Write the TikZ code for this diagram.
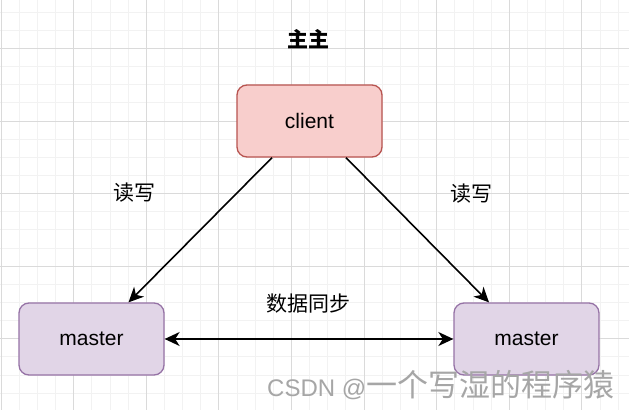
\documentclass[tikz,border=0pt]{standalone}
\usepackage{fontspec}
\setmainfont{Liberation Sans}
\newfontfamily\cjk{Noto Sans CJK SC}
\usetikzlibrary{arrows.meta}
\definecolor{clientfill}{HTML}{F8CECC}
\definecolor{clientline}{HTML}{B85450}
\definecolor{masterfill}{HTML}{E1D5E7}
\definecolor{masterline}{HTML}{9673A6}
\definecolor{gridminor}{HTML}{F2F2F2}
\definecolor{gridmajor}{HTML}{DADADA}
\definecolor{wmgray}{HTML}{A6A6A6}
\tikzset{
  box/.style={rounded corners=10pt, line width=1.3pt, minimum width=145pt, minimum height=72pt,
    inner sep=0pt, font=\fontsize{21}{25}\selectfont, text=black},
  clientbox/.style={box, fill=clientfill, draw=clientline},
  masterbox/.style={box, fill=masterfill, draw=masterline},
  lbl/.style={font=\fontsize{21}{25}\selectfont\cjk, inner sep=0pt},
  conn/.style={line width=1.6pt, -{Stealth[length=15pt,width=14pt,inset=4.5pt]}},
  dconn/.style={line width=1.6pt, {Stealth[length=15pt,width=14pt,inset=4.5pt]}-{Stealth[length=15pt,width=14pt,inset=4.5pt]}}
}
\begin{document}
\begin{tikzpicture}[x=1pt,y=-1pt]
\useasboundingbox (0,0) rectangle (629,410);
\fill[white] (0,0) rectangle (629,410);
% minor grid
\foreach \i in {-1,...,35} {
  \draw[gridminor, line width=0.8pt] ({1+18.15*\i},0) -- ({1+18.15*\i},410);
}
\foreach \j in {-3,...,23} {
  \draw[gridminor, line width=0.8pt] (0,{48.3+18.15*\j}) -- (629,{48.3+18.15*\j});
}
% major grid
\foreach \i in {0,...,8} {
  \draw[gridmajor, line width=0.8pt] ({1+72.6*\i},0) -- ({1+72.6*\i},410);
}
\foreach \j in {-1,...,5} {
  \draw[gridmajor, line width=0.8pt] (0,{48.3+72.6*\j}) -- (629,{48.3+72.6*\j});
}
% title
\node[font=\fontsize{21}{25}\selectfont\cjk\bfseries, inner sep=0pt] (title) at (308.5,39) {主主};
% nodes
\node[clientbox] (client) at (309.5,121) {client};
\node[masterbox] (m1) at (91.5,339) {master};
\node[masterbox] (m2) at (526.5,339) {master};
% labels
\node[lbl] (rw1) at (134,193) {读写};
\node[lbl] (rw2) at (471,194) {读写};
\node[lbl] (sync) at (308.5,304) {数据同步};
% connectors
\coordinate (c1) at ([xshift=-37.5pt]client.south);
\coordinate (c2) at ([xshift=36.5pt]client.south);
\coordinate (t1) at ([xshift=37pt]m1.north);
\coordinate (t2) at ([xshift=-37.5pt]m2.north);
\draw[conn] (c1) -- (t1);
\draw[conn] (c2) -- (t2);
\draw[dconn] (m1.east) -- (m2.west);
% watermark
\node[anchor=west, inner sep=0pt, text=wmgray] (wm) at (267,385)
  {\fontsize{24}{28}\selectfont CSDN @\cjk\fontsize{31}{34}\selectfont 一个写湿的程序猿};
\end{tikzpicture}
\end{document}
